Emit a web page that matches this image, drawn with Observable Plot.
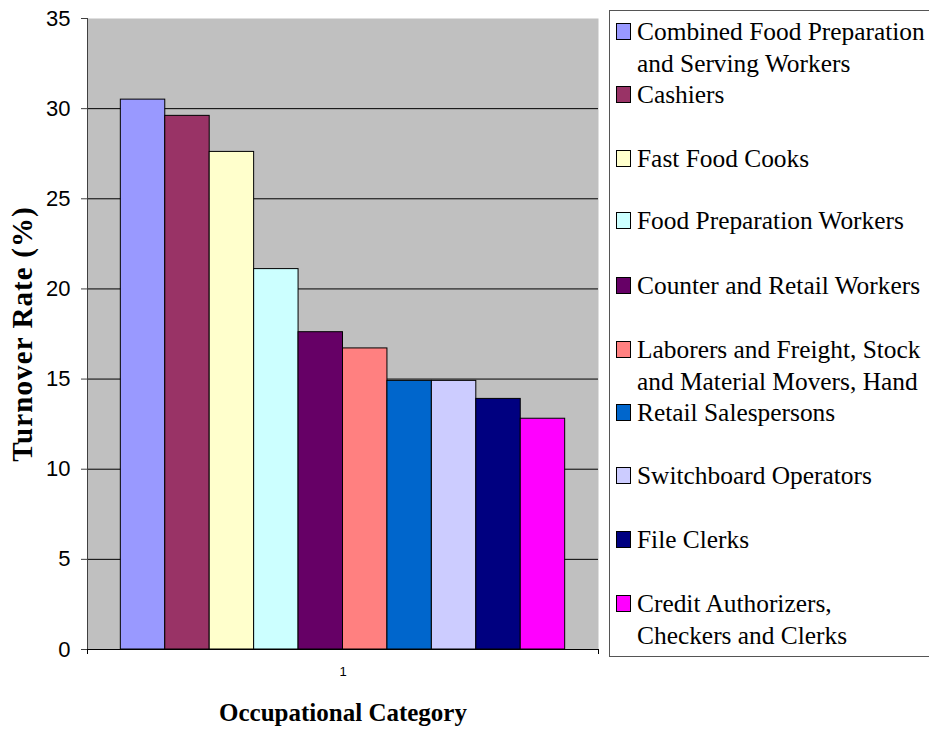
<!DOCTYPE html>
<html>
<head>
<meta charset="utf-8">
<script src="https://cdn.jsdelivr.net/npm/d3@7"></script>
<script src="https://cdn.jsdelivr.net/npm/@observablehq/plot@0.6"></script>
<style>
  html, body { margin: 0; padding: 0; background: #fff; overflow: hidden; }
  #wrap { position: relative; width: 929px; height: 729px; overflow: hidden; }
  #legend { position: absolute; left: 609px; top: 10px; width: 340px; height: 647px;
            border: 1px solid #555; background: #fff; box-sizing: border-box; }
  .entry { position: absolute; left: 27px; width: 300px; white-space: pre;
           font-family: "Times New Roman", "Liberation Serif", serif;
           font-size: 25.4px; line-height: 32px; color: #000; }
  .sw { position: absolute; left: -21px; width: 15px; height: 17px; border: 1px solid #000; box-sizing: border-box; }
</style>
</head>
<body>
<div id="wrap"></div>
<script>
const categories = [
  "Combined Food Preparation\nand Serving Workers",
  "Cashiers",
  "Fast Food Cooks",
  "Food Preparation Workers",
  "Counter and Retail Workers",
  "Laborers and Freight, Stock\nand Material Movers, Hand",
  "Retail Salespersons",
  "Switchboard Operators",
  "File Clerks",
  "Credit Authorizers,\nCheckers and Clerks"
];
const values = [30.5, 29.6, 27.6, 21.1, 17.6, 16.7, 14.9, 14.9, 13.9, 12.8];
const colors = ["#9999FF", "#993366", "#FFFFCC", "#CCFFFF", "#660066",
                "#FF8080", "#0066CC", "#CCCCFF", "#000080", "#FF00FF"];
const yTicks = [0, 5, 10, 15, 20, 25, 30, 35];
const gridTicks = [5, 10, 15, 20, 25, 30];
const xTickLabels = ["1"];
const xTitle = "Occupational Category";
const yTitle = "Turnover Rate (%)";

const serif = "Times New Roman, Liberation Serif, serif";
const sans = "Arial, Liberation Sans, sans-serif";
const data = categories.map((name, i) => ({name, value: values[i], i}));
const xDomain = [-0.75, categories.length + 0.75];

const chart = Plot.plot({
  width: 929,
  height: 729,
  marginTop: 18,
  marginRight: 331,
  marginBottom: 80,
  marginLeft: 87,
  style: {background: "white", overflow: "visible"},
  x: {type: "linear", domain: xDomain, axis: null},
  y: {domain: [0, 35], axis: null},
  color: {domain: categories, range: colors},
  marks: [
    Plot.frame({fill: "#C0C0C0", stroke: "none"}),
    Plot.ruleY(gridTicks, {stroke: "#000", strokeWidth: 1}),
    Plot.rectY(data, {x1: "i", x2: d => d.i + 1, y1: 0, y2: "value", fill: "name", stroke: "#000", strokeWidth: 1}),
    Plot.ruleX([xDomain[0]], {stroke: "#404040", strokeWidth: 1}),
    Plot.ruleY([0], {stroke: "#000", strokeWidth: 1}),
    Plot.axisY({ticks: yTicks, label: null, tickSize: 6, tickPadding: 11, fontSize: 22, fontFamily: sans, stroke: "#404040", color: "#000"}),
    Plot.axisX({ticks: xDomain, label: null, tickSize: 5, tickFormat: () => "", stroke: "#000"}),
    Plot.text(xTickLabels, {text: d => d, frameAnchor: "bottom", lineAnchor: "middle", dy: 22, fontSize: 13, fontFamily: sans, fill: "#000"}),
    Plot.text([xTitle], {text: d => d, frameAnchor: "bottom", lineAnchor: "middle", dy: 63, fontSize: 25, fontWeight: "bold", fontFamily: serif, fill: "#000"}),
    Plot.text([yTitle], {text: d => d, frameAnchor: "left", textAnchor: "middle", lineAnchor: "middle", rotate: -90, dx: -65, fontSize: 29, fontWeight: "bold", fontFamily: serif, fill: "#000"})
  ]
});

d3.select(chart).selectAll("text")
  .filter(function() { return this.textContent === yTitle; })
  .attr("letter-spacing", "1.1px");

const wrap = document.getElementById("wrap");
wrap.appendChild(chart);

const legend = document.createElement("div");
legend.id = "legend";
wrap.appendChild(legend);
const baselines = [39, 102, 166, 228, 293, 357, 420, 483, 547, 611];
categories.forEach((name, i) => {
  const e = document.createElement("div");
  e.className = "entry";
  e.style.top = (baselines[i] - 10 - 24.6) + "px";
  const sw = document.createElement("div");
  sw.className = "sw";
  sw.style.background = colors[i];
  sw.style.top = "8px";
  e.appendChild(sw);
  e.appendChild(document.createTextNode(name));
  legend.appendChild(e);
});
</script>
</body>
</html>
